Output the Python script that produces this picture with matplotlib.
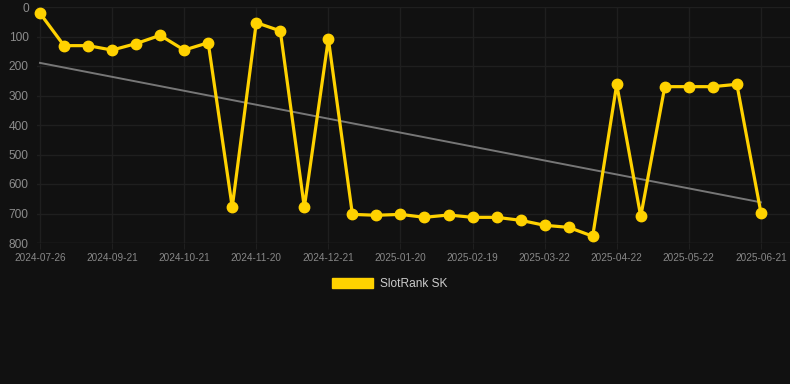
import matplotlib
matplotlib.use("Agg")
import matplotlib.pyplot as plt
import numpy as np

# Data (category axis, evenly spaced points)
ranks = [21, 131, 131, 146, 124, 96, 146, 121, 679, 53, 81, 679, 108,
         703, 706, 703, 713, 705, 713, 713, 723, 740, 747, 777,
         262, 710, 270, 270, 270, 262, 697]
tick_labels = ["2024-07-26", "2024-09-21", "2024-10-21", "2024-11-20",
               "2024-12-21", "2025-01-20", "2025-02-19", "2025-03-22",
               "2025-04-22", "2025-05-22", "2025-06-21"]
y_ticks = [0, 100, 200, 300, 400, 500, 600, 700, 800]
series_name = "SlotRank SK"

plt.rcParams['font.family'] = ['Liberation Sans', 'DejaVu Sans']

BG = "#111111"
GOLD = "#FFD200"

fig = plt.figure(figsize=(7.9, 3.84), dpi=100, facecolor=BG)
W, H = 790, 384
ax = fig.add_axes([37 / W, 1 - 243 / H, 1 - 37 / W, (243 - 7) / H])
ax.set_facecolor(BG)

x = np.arange(len(ranks))
# trend line (linear regression)
coef = np.polyfit(x, ranks, 1)
ax.plot(x, np.polyval(coef, x), color="#777777", lw=1.4, zorder=2)

ax.plot(x, ranks, color=GOLD, lw=2.3, marker="o", markersize=7.5,
        markerfacecolor=GOLD, markeredgecolor=GOLD, zorder=3, clip_on=False,
        label=series_name)

step = 24.03
ax.set_xlim(-3 / step, (790 - 40) / step)
ax.set_ylim(800, 0)

tick_pos = x[::3][:len(tick_labels)]
ax.set_xticks(tick_pos)
ax.set_xticklabels(tick_labels, fontsize=7.2, color="#888888")
ax.set_yticks(y_ticks)
ax.set_yticklabels([str(v) for v in y_ticks], fontsize=8.6, color="#8c8c8c")

ax.grid(True, color="#1f1f1f", lw=1.0)
ax.tick_params(axis="x", length=4, color="#1f1f1f", pad=3)
ax.tick_params(axis="y", length=0, pad=6)
for s in ax.spines.values():
    s.set_visible(False)
ax.axhline(800, color="#2a2a2a", lw=1.0, zorder=1)

# legend
leg = fig.legend(handles=[plt.Rectangle((0, 0), 1, 1, color=GOLD)],
                 labels=[series_name], loc="center",
                 bbox_to_anchor=(390 / W, 1 - 284 / H), frameon=False,
                 fontsize=8.6, handlelength=3.4, handleheight=1.0,
                 handletextpad=0.6, labelcolor="#cccccc")

fig.savefig("out.png", dpi=100, facecolor=BG)
